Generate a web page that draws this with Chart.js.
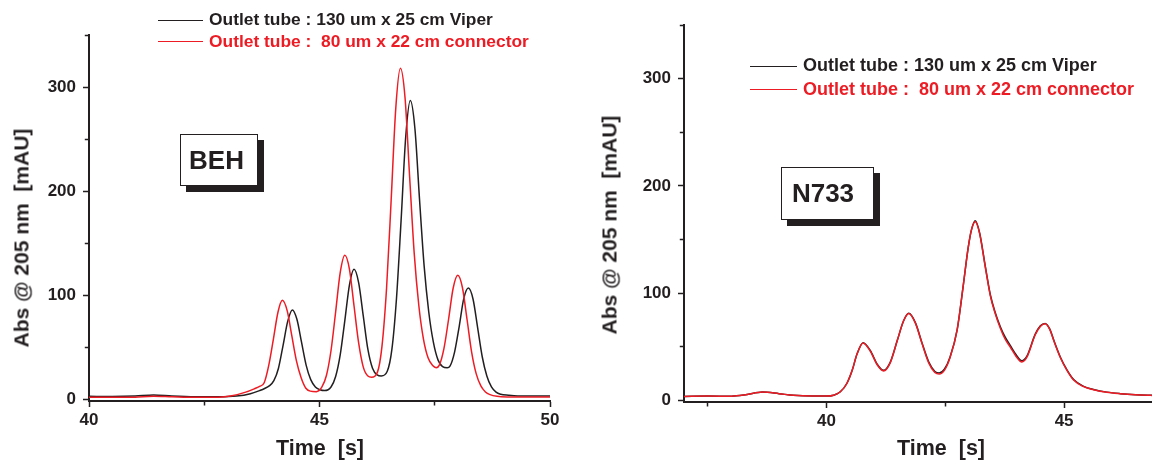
<!DOCTYPE html>
<html>
<head>
<meta charset="utf-8">
<script src="https://cdn.jsdelivr.net/npm/chart.js@4.4.1/dist/chart.umd.min.js"></script>
<style>
html,body{margin:0;padding:0;width:1152px;height:460px;overflow:hidden;background:#fff;font-family:"Liberation Sans",Arial,sans-serif;}
canvas{position:absolute;top:0;}
#c1{left:0;}
#c2{left:580px;}
.legend{position:absolute;font-weight:bold;white-space:pre;}
.legend .row{display:flex;align-items:center;}
.legend .ln{display:inline-block;height:0;border-top:1.4px solid;}
.title{position:absolute;font-weight:bold;white-space:pre;line-height:1;color:#231f20;transform:translate(-50%,-50%);}
.ytitle{transform:translate(-50%,-50%) rotate(-90deg);}
.box{position:absolute;box-sizing:border-box;border:1.5px solid #231f20;background:#fff;box-shadow:6px 6px 0 #231f20;font-weight:bold;font-size:26px;color:#231f20;display:flex;align-items:center;justify-content:center;}
</style>
</head>
<body>
<canvas id="c1" width="576" height="460"></canvas>
<canvas id="c2" width="572" height="460"></canvas>

<div class="box" style="left:180px;top:134px;width:78px;height:52px;padding-right:5px;">BEH</div>
<div class="box" style="left:781px;top:167px;width:93px;height:53px;padding-right:9px;">N733</div>

<div class="title ytitle" style="left:20.5px;top:238px;font-size:21px;">Abs @ 205 nm  [mAU]</div>
<div class="title ytitle" style="left:609px;top:225px;font-size:21px;">Abs @ 205 nm  [mAU]</div>
<div class="title" style="left:320px;top:448.5px;font-size:21.5px;">Time  [s]</div>
<div class="title" style="left:941px;top:448.5px;font-size:21.5px;">Time  [s]</div>

<div class="legend" id="leg1" style="left:158px;top:9.2px;font-size:17.4px;"></div>
<div class="legend" id="leg2" style="left:750px;top:54.4px;font-size:18px;"></div>

<script>
// ---------- data ----------
const labelBlack = 'Outlet tube : 130 um x 25 cm Viper';
const labelRed   = 'Outlet tube :  80 um x 22 cm connector';

// BEH panel
const behTimesBlack = [40.0, 40.5, 41.0, 41.4, 41.8, 42.3, 42.8, 43.2, 43.5, 43.7,
  43.81, 43.91, 44.01, 44.11, 44.21, 44.31, 44.41, 44.51, 44.61, 44.71, 44.81, 44.91, 45.01, 45.11,
  45.25, 45.35, 45.45, 45.55, 45.65, 45.75, 45.85, 45.95, 46.05, 46.15, 46.25, 46.34,
  46.47, 46.57, 46.67, 46.77, 46.87, 46.97, 47.07, 47.17, 47.27, 47.37, 47.47, 47.57, 47.67, 47.77,
  47.83, 47.93, 48.03, 48.13, 48.23, 48.33, 48.43, 48.53, 48.63, 48.73, 48.83, 48.93,
  49.1, 49.3, 49.6, 50.0];
const behBlack = [3.0, 2.8, 3.2, 4.2, 3.3, 2.6, 2.5, 3.2, 5.5, 8.5,
  10.5, 13, 18, 30, 52, 75, 86, 77, 55, 33, 19, 12, 9.3, 8.5,
  12, 22, 43, 76, 110, 125, 112, 80, 48, 30, 23.5, 22.5,
  27, 48, 97, 172, 252, 287, 260, 192, 128, 84, 55, 38, 31.5, 30.5,
  32, 45.5, 70, 97, 107, 96.5, 69, 41, 22.5, 12, 7, 5,
  4.0, 3.3, 3.2, 3.2];

const behTimesRed = [40.0, 40.5, 41.0, 41.4, 41.8, 42.3, 42.8, 43.1, 43.4, 43.6,
  43.70, 43.80, 43.90, 44.00, 44.10, 44.195, 44.30, 44.40, 44.50, 44.60, 44.70, 44.80, 44.93,
  45.05, 45.15, 45.25, 45.35, 45.45, 45.55, 45.65, 45.75, 45.85, 45.95, 46.05, 46.13,
  46.255, 46.355, 46.455, 46.555, 46.655, 46.755, 46.855, 46.955, 47.055, 47.155, 47.255, 47.355, 47.455, 47.53,
  47.60, 47.70, 47.80, 47.90, 48.00, 48.10, 48.20, 48.30, 48.40, 48.50, 48.60, 48.70, 48.85,
  49.1, 49.5, 50.0];
const behRed = [2.0, 2.0, 2.2, 3.0, 2.5, 2.0, 2.2, 3.5, 7, 10.5,
  12.5, 16, 33, 58, 84, 95.2, 85, 61, 37, 21, 11, 8, 7.5,
  11.8, 23, 47, 84, 122, 138.5, 125, 89.5, 54, 31, 22.5, 21.4,
  26, 51, 107, 192, 280, 318, 290, 214, 140, 90, 58, 40, 32.5, 30.5,
  33, 49, 77, 107, 119.3, 107.5, 77, 45.5, 24.5, 13, 7.2, 4.6, 3.0,
  2.4, 2.3, 2.3];

// N733 panel
const n733Times = [37.0, 37.5, 38.0, 38.3, 38.65, 39.0, 39.3, 39.7, 40.0, 40.15,
  40.29, 40.43, 40.54, 40.64, 40.77, 40.92, 41.07, 41.2, 41.34, 41.49,
  41.62, 41.73, 41.87, 42.01, 42.15, 42.28, 42.37, 42.48, 42.6, 42.75,
  42.88, 42.98, 43.05, 43.13, 43.22, 43.34, 43.45, 43.55, 43.66, 43.76,
  43.87, 43.99, 44.11, 44.22, 44.39, 44.5, 44.6, 44.7, 44.78, 44.92,
  45.06, 45.2, 45.4, 45.62, 45.9, 46.18, 46.5, 46.82, 47.2, 47.6, 48.0];
const n733Black = [3.7, 4.0, 3.9, 5.2, 7.8, 6.3, 4.7, 4.0, 4.0, 4.8,
  8, 16, 28, 43, 53.8, 46.5, 33.5, 28, 35.5, 56,
  74, 81.2, 72.5, 53.5, 36, 27, 25.5, 29, 40.5, 66,
  108, 142, 159, 167.5, 156.5, 125.5, 98, 82, 68.5, 59,
  51, 42.5, 37, 41.5, 61.5, 69.5, 71.8, 66.5, 56.5, 40.5,
  28.5, 19.5, 13.3, 10.2, 7.7, 6.3, 5.3, 4.8, 4.4, 4.1, 3.9];
const n733Red = [3.7, 4.0, 3.9, 5.2, 7.8, 6.3, 4.7, 4.0, 4.0, 4.8,
  8, 16, 28, 43, 53.6, 46, 33, 27.5, 35, 56,
  74, 81, 72, 53, 35, 26, 24.5, 28, 40, 66,
  108, 142, 159, 166.6, 156, 124.6, 97, 81, 67, 57,
  49.5, 41, 35.8, 40.5, 61, 69, 71.5, 66, 56, 40,
  28, 19, 13, 10, 7.5, 6.2, 5.2, 4.7, 4.3, 4.0, 3.8];

// tick positions
const xTicksBEH  = [40, 42.5, 45, 47.5, 50];
const xTicksN733 = [37.5, 40, 42.5, 45];
const yTicks     = [0, 50, 100, 150, 200, 250, 300, 350];

// ---------- drawing ----------
const BLACK = '#231f20';
const RED = '#ed1c24';

function pts(ts, vs) { return ts.map((t, i) => ({ x: t, y: vs[i] })); }

function makeChart(id, c) {
  return new Chart(document.getElementById(id), {
    type: 'line',
    data: {
      datasets: [
        { label: labelBlack, data: pts(c.tb, c.vb), borderColor: BLACK, borderWidth: 1.5,
          pointRadius: 0, cubicInterpolationMode: 'monotone', fill: false, order: 1 },
        { label: labelRed, data: pts(c.tr, c.vr), borderColor: RED, borderWidth: 1.5,
          pointRadius: 0, cubicInterpolationMode: 'monotone', fill: false, order: 0 }
      ]
    },
    options: {
      responsive: false, animation: false, devicePixelRatio: 1,
      layout: { padding: { left: 0, right: c.padRight, top: c.padTop, bottom: 0 } },
      plugins: { legend: { display: false }, tooltip: { enabled: false } },
      scales: {
        x: {
          type: 'linear', min: c.xmin, max: c.xmax,
          afterBuildTicks: s => { s.ticks = c.xt.map(v => ({ value: v })); },
          afterFit: s => { s.height = c.xh; },
          grid: { drawOnChartArea: false, drawTicks: true, tickLength: 6, tickColor: BLACK, tickWidth: 1.5,
                  tickBorderDash: ctx => (ctx.tick && ctx.tick.value % 5 !== 0 ? [3.5, 20] : []) },
          border: { display: true, color: BLACK, width: 2 },
          ticks: { color: BLACK, padding: 3, maxRotation: 0, autoSkip: false,
                   font: { family: 'Liberation Sans', weight: 'bold', size: 17 },
                   callback: v => (v % 5 === 0 ? String(v) : '') }
        },
        y: {
          type: 'linear', min: -1.5, max: 350,
          afterBuildTicks: s => { s.ticks = yTicks.map(v => ({ value: v })); },
          afterFit: s => { s.width = c.yw; },
          grid: { drawOnChartArea: false, drawTicks: true, tickLength: 6, tickColor: BLACK, tickWidth: 1.5,
                  tickBorderDash: ctx => (ctx.tick && ctx.tick.value % 100 !== 0 ? [0, 1.8, 20] : []) },
          border: { display: true, color: BLACK, width: 2 },
          ticks: { color: BLACK, padding: 7, autoSkip: false,
                   font: { family: 'Liberation Sans', weight: 'bold', size: 17 },
                   callback: v => (v % 100 === 0 ? String(v) : '') }
        }
      }
    }
  });
}

function buildLegend(chart, elId, rowH, lineW, gap) {
  const el = document.getElementById(elId);
  chart.data.datasets.forEach(ds => {
    const row = document.createElement('div');
    row.className = 'row';
    row.style.height = rowH + 'px';
    row.style.lineHeight = rowH + 'px';
    const ln = document.createElement('span');
    ln.className = 'ln';
    ln.style.width = lineW + 'px';
    ln.style.borderColor = ds.borderColor;
    ln.style.marginRight = gap + 'px';
    const tx = document.createElement('span');
    tx.textContent = ds.label;
    tx.style.color = ds.borderColor;
    row.appendChild(ln);
    row.appendChild(tx);
    el.appendChild(row);
  });
}

const chart1 = makeChart('c1', {
  tb: behTimesBlack, vb: behBlack, tr: behTimesRed, vr: behRed,
  xmin: 40, xmax: 50, xt: xTicksBEH,
  padRight: 26, padTop: 35, xh: 59, yw: 89
});
const chart2 = makeChart('c2', {
  tb: n733Times, vb: n733Black, tr: n733Times, vr: n733Red,
  xmin: 37, xmax: 46.85, xt: xTicksN733,
  padRight: 0, padTop: 25, xh: 58, yw: 104
});

buildLegend(chart1, 'leg1', 21.7, 45, 6);
buildLegend(chart2, 'leg2', 23.3, 47, 6);
</script>
</body>
</html>
